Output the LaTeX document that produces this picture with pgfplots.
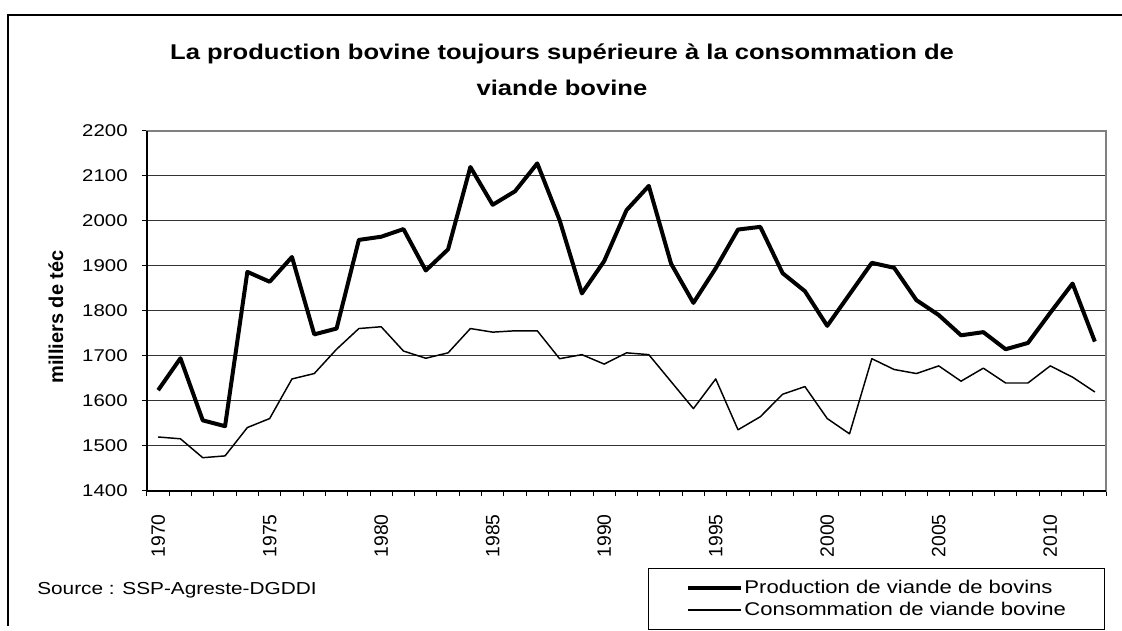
\documentclass[border=0pt]{standalone}
\usepackage{fontspec}
\setmainfont{Liberation Sans}[FakeStretch=1.2]
\newfontfamily\plainfont{Liberation Sans}
\usepackage{pgfplots}
\usepackage{pgfplotstable}
\pgfplotsset{compat=1.18}

\pgfplotstableread{
year prod cons
1970 1624 1520
1971 1695 1516
1972 1557 1474
1973 1544 1478
1974 1887 1541
1975 1865 1561
1976 1920 1649
1977 1748 1661
1978 1761 1715
1979 1958 1761
1980 1965 1765
1981 1982 1711
1982 1890 1695
1983 1937 1707
1984 2120 1761
1985 2036 1753
1986 2066 1756
1987 2128 1756
1988 2002 1694
1989 1839 1703
1990 1911 1682
1991 2024 1707
1992 2078 1703
1993 1905 1643
1994 1818 1583
1995 1895 1649
1996 1981 1536
1997 1987 1565
1998 1884 1615
1999 1844 1632
2000 1767 1561
2001 1837 1527
2002 1907 1694
2003 1896 1670
2004 1824 1661
2005 1791 1678
2006 1746 1644
2007 1753 1673
2008 1715 1640
2009 1729 1640
2010 1796 1678
2011 1861 1653
2012 1732 1620
}\datatable

\begin{document}
\begin{tikzpicture}
\begin{scope}[x=0.75pt,y=0.75pt]
\path[use as bounding box] (0,0) rectangle (1122,626);
% outer chart frame (cut at right and bottom)
\draw[line width=1.2pt] (8,0) -- (8,611) -- (1122,611);
% title
\node[font=\fontsize{16}{27}\selectfont\bfseries, align=center] at (562,556) {La production bovine toujours supérieure à la consommation de\\viande bovine};
% y label
\node[font=\plainfont\fontsize{15}{18}\selectfont\bfseries, rotate=90] at (56,309) {milliers de téc};
% source
\node[font=\fontsize{13}{16}\selectfont, anchor=west, inner sep=0pt] at (37,36) {Source : SSP-Agreste-DGDDI};
\end{scope}

\begin{axis}[
  at={(110.25pt,101.25pt)}, anchor=south west,
  scale only axis, width=719.25pt, height=270pt,
  xmin=1969.5, xmax=2012.5, ymin=1400, ymax=2200,
  ytick={1400,1500,...,2200},
  xtick={1969.5,1970.5,...,2012.5},
  xticklabels={},
  extra x ticks={1970,1975,...,2010},
  extra x tick style={major tick length=0pt, grid=none},
  extra x tick labels={1970,1975,1980,1985,1990,1995,2000,2005,2010},
  xtick pos=bottom, ytick pos=left,
  tick align=outside, major tick length=4pt,
  tick style={black, line width=0.75pt},
  ymajorgrids, xmajorgrids=false,
  grid style={black!80, line width=0.75pt},
  axis line style={black!50, line width=1pt},
  /pgf/number format/assume math mode=true,
  /pgf/number format/1000 sep={},
  yticklabel style={font=\fontsize{12.75}{14}\selectfont, xshift=-7pt},
  xticklabel style={font=\plainfont\fontsize{14.5}{16}\selectfont, yshift=-14pt, rotate=90, anchor=east},
  legend style={at={(rel axis cs:0.5224,-0.2139)}, anchor=north west,
    draw=black, line width=0.75pt, fill=white,
    font=\fontsize{13.8}{15}\selectfont,
    inner xsep=28pt, inner ysep=7pt, row sep=1pt,
    nodes={inner xsep=1pt, inner ysep=2pt},
    legend cell align=left},
  legend image code/.code={\draw[#1] (0pt,0pt) -- (40pt,0pt);},
  clip=false,
]
\addplot[black, line width=3pt, line join=round] table[x=year, y=prod] {\datatable};
\addlegendentry{Production de viande de bovins}
\addplot[black, line width=1.1pt, line join=round] table[x=year, y=cons] {\datatable};
\addlegendentry{Consommation de viande bovine}
\draw[black, line width=1pt] (rel axis cs:0,1) -- (rel axis cs:0,0) -- (rel axis cs:1,0);
\end{axis}
\end{tikzpicture}
\end{document}
